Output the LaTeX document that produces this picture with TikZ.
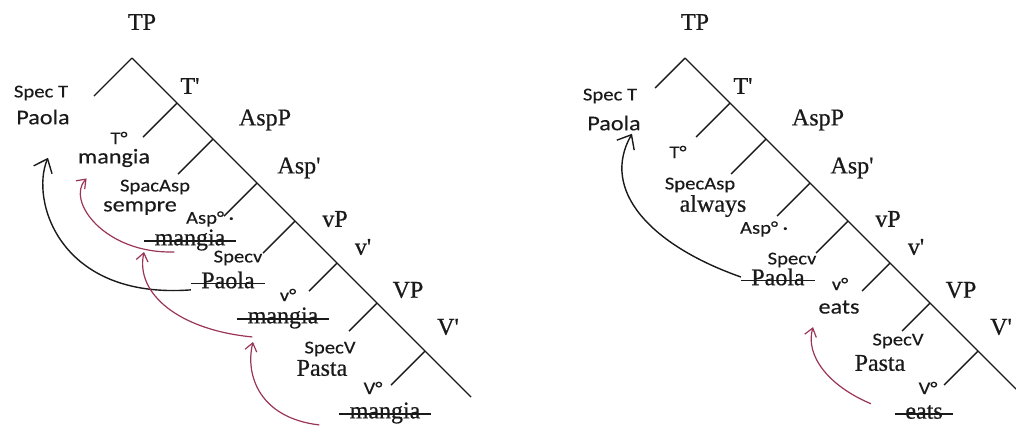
\documentclass[tikz,border=0pt]{standalone}
\usepackage{fontspec}
\setmainfont{Liberation Serif}[FakeBold=0.6]
\newfontfamily\labfont{Carlito}[FakeStretch=1.15, FakeBold=0.3]
\usetikzlibrary{arrows.meta}
\definecolor{ink}{HTML}{1A1A1A}
\definecolor{hopred}{HTML}{9A3458}
\tikzset{
  tree/.style={draw=ink, line width=0.7pt},
  cat/.style={text=ink, font=\fontsize{12}{12}\selectfont, inner sep=0.5pt},
  gone/.style={cat, inner xsep=5pt},
  spec/.style={text=ink, font=\labfont\fontsize{9}{9}\selectfont, inner sep=0.5pt},
  word/.style={text=ink, font=\labfont\fontsize{10.5}{10.5}\selectfont, inner sep=0.5pt},
  trace/.style={draw=ink, line width=0.8pt},
  mv/.style={draw=ink, line width=0.7pt, -{Straight Barb[length=6pt,width=10pt]}},
  hm/.style={draw=hopred, line width=0.6pt, -{Straight Barb[length=4pt,width=6pt]}}
}
\newcommand\br{\textquotesingle}

\begin{document}
\begin{tikzpicture}[x=0.5pt, y=-0.5pt]
  \useasboundingbox (0,0) rectangle (1016,430);
  % two trees, same spine
  \foreach \ox/\s/\len/\arm in {0/l/339/38, 553/r/331/30}{
    \coordinate (\s top) at (132+\ox,58);
    \draw[tree] (\s top) -- +(\len,\len);
    \draw[tree] (\s top) -- +(-\arm,\arm);
    \foreach \d/\b in {45/34,81/35,125/33,163/32,205/28,245/28,293/34}{
      \draw[tree] ([shift={(\d,\d)}]\s top) -- +(-\b,\b);
    }
    \node[cat] (\s TP)     at (142+\ox,22)  {TP};
    \node[cat] (\s Tbar)   at (190+\ox,86)  {T\br};
    \node[cat] (\s AspP)   at (265+\ox,120) {AspP};
    \node[cat] (\s Aspbar) at (299+\ox,168) {Asp\br};
    \node[cat] (\s vP)     at (335+\ox,219) {vP};
    \node[cat] (\s vbar)   at (363+\ox,247) {v\br};
    \node[cat] (\s VP)     at (408+\ox,290) {VP};
    \node[cat] (\s Vbar)   at (448+\ox,327) {V\br};
  }

  % Italian
  \node[spec] (lSpecT)     at (41,93)   {Spec T};
  \node[word] (lPaola)     at (43,117)  {Paola};
  \node[spec] (lTo)        at (119,138) {T°};
  \node[word] (lMangia)    at (114,158) {mangia};
  \node[spec] (lSpecAsp)   at (155,187) {SpacAsp};
  \node[word] (lSempre)    at (140,208) {sempre};
  \node[spec] (lAspo)      at (210,219) {Asp° ·};
  \node[gone] (lMangiaAsp) at (190,240) {mangia};
  \node[spec] (lSpecv)     at (238,258) {Specv};
  \node[gone] (lPaolaOut)  at (228,280) {Paola};
  \node[spec] (lvo)        at (288,295) {v°};
  \node[gone] (lMangiav)   at (283,318) {mangia};
  \node[spec] (lSpecV)     at (330,349) {SpecV};
  \node[cat]  (lPasta)     at (322,368) {Pasta};
  \node[spec] (lVo)        at (373,388) {V°};
  \node[gone] (lMangiaV)   at (385,413) {mangia};

  % English
  \node[spec] (rSpecT)     at (610,96)  {Spec T};
  \node[word] (rPaola)     at (614,123) {Paola};
  \node[spec] (rTo)        at (678,152) {T°};
  \node[spec] (rSpecAsp)   at (700,185) {SpecAsp};
  \node[cat]  (rAlways)    at (713,206) {always};
  \node[spec] (rAspo)      at (764,229) {Asp° ·};
  \node[spec] (rSpecv)     at (792,260) {Specv};
  \node[gone] (rPaolaOut)  at (778,277) {Paola};
  \node[spec] (rvo)        at (840,284) {v°};
  \node[word] (rEats)      at (839,307) {eats};
  \node[spec] (rSpecV)     at (898,341) {SpecV};
  \node[cat]  (rPasta)     at (880,363) {Pasta};
  \node[spec] (rVo)        at (928,388) {V°};
  \node[gone] (rEatsOut)   at (924,412) {eats};

  \foreach \n in {lMangiaAsp,lPaolaOut,lMangiav,lMangiaV,rPaolaOut,rEatsOut}{
    \draw[trace] (\n.mid west) -- (\n.mid east);
  }

  % subject raising
  \draw[mv] (lPaolaOut.south west) .. controls +(-132,10) and +(-18,42) .. ([shift={(5,32)}]lPaola.south);
  \draw[mv] (rPaolaOut.west) .. controls +(-91,-32) and +(-32,56) .. ([shift={(18,2)}]rPaola.south);

  % head movement
  \draw[hm] ([xshift=15]lMangiaAsp.south west) .. controls +(-70,2) and +(-21,22) .. ([shift={(10,10)}]lMangia.south west);
  \draw[hm] ([shift={(15,7)}]lMangiav.south west) .. controls +(-73,-7) and +(-9,42) .. ([xshift=-23]lMangiaAsp.south);
  \draw[hm] ([xshift=-10]lMangiaV.south west) .. controls +(-60,-7) and +(-8,33) .. ([shift={(-30,12)}]lMangiav.south);
  \draw[hm] ([xshift=-12]rEatsOut.north west) .. controls +(-43,-18) and +(-8,28) .. ([shift={(-26,12)}]rEats.south);
\end{tikzpicture}
\end{document}
